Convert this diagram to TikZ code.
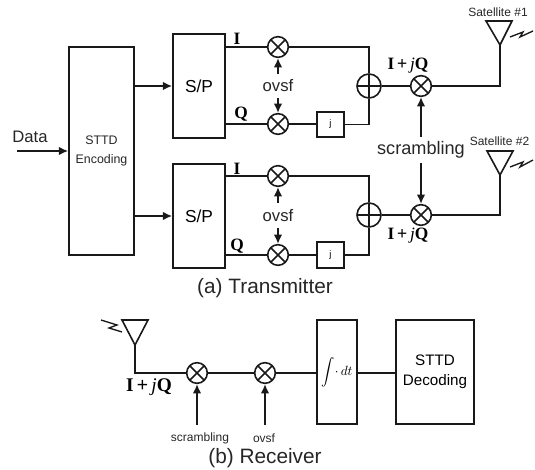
\documentclass[tikz,border=0pt]{standalone}
\usepackage{fontspec}
\setmainfont{Liberation Sans}
\newfontfamily\serifbf{Liberation Serif}
\usetikzlibrary{arrows.meta}
\tikzset{
  wire/.style={draw=black!90,line width=1.2pt},
  arr/.style={draw=black!90,line width=1.2pt,-{Latex[length=7pt,width=6.5pt]}},
  blockbox/.style={draw=black!90,rectangle,inner sep=0,line width=1.3pt,align=center},
  mix/.style={draw=black!90,fill=white,circle,minimum size=15.5pt,inner sep=0,line width=1.2pt,
    path picture={\draw[line width=1.2pt] (path picture bounding box.north west)--(path picture bounding box.south east)
      (path picture bounding box.north east)--(path picture bounding box.south west);}},
  summ/.style={draw=black!90,fill=white,circle,minimum size=18pt,inner sep=0,line width=1.2pt,
    path picture={\draw[line width=1.2pt] (path picture bounding box.north)--(path picture bounding box.south)
      (path picture bounding box.east)--(path picture bounding box.west);}},
  lab/.style={inner sep=0,text=black!85},
  iq/.style={inner sep=0,text=black,font=\serifbf\bfseries\fontsize{13}{15}\selectfont},
  jbox/.style={blockbox,minimum width=20pt,minimum height=19pt,font=\fontsize{7}{8}\selectfont},
  spbox/.style={blockbox,minimum width=39pt,minimum height=78pt,font=\fontsize{13}{15}\selectfont},
  ant/.style={draw=black!90,line width=1.2pt,line join=miter},
  bolt/.style={draw=black!90,line width=1pt},
}
\newcommand{\szA}{\fontsize{9}{10}\selectfont}
\newcommand{\szB}{\fontsize{12.5}{14}\selectfont}
\newcommand{\szC}{\fontsize{15.6}{18}\selectfont}
\newcommand{\IQ}{I\,{\normalfont +}\,{\itshape\mdseries j}Q}
\begin{document}
\begin{tikzpicture}[x=0.75pt,y=-0.75pt]
\useasboundingbox (0,0) rectangle (535,470);
% blocks
\node[blockbox,minimum width=48.75pt,minimum height=156pt] (enc) at (101.5,151) {};
\node[spbox] (sp1) at (199,86) {S/P};
\node[spbox] (sp2) at (199,216) {S/P};
\node[lab,font=\fontsize{9.3}{14}\selectfont,align=center] (enct) at (101.5,151) {STTD\\Encoding};
% mixers
\node[mix] (m1i) at (278,47) {};
\node[mix] (m1q) at (278,124) {};
\node[mix] (m2i) at (278,176) {};
\node[mix] (m2q) at (278,255) {};
\node[jbox] (j1) at (330.5,124.5) {j};
\node[jbox] (j2) at (330.5,255) {j};
\node[summ] (s1) at (369,86) {};
\node[summ] (s2) at (369,215) {};
\node[mix] (x1) at (421,86) {};
\node[mix] (x2) at (421,215) {};
% antennas
\coordinate (a1) at (500,45);
\coordinate (a2) at (500,175);
\coordinate (a3) at (135,345);
\draw[ant] (a1) -- (486,21) -- (512,21) -- cycle;
\draw[ant] (a2) -- (487,151) -- (513,151) -- cycle;
\draw[ant] (a3) -- (122,320) -- (148,320) -- cycle;
\draw[bolt] (510,37) -- (523,32) -- (520,37) -- (533,31);
\draw[bolt] (510,167) -- (523,162) -- (520,167) -- (533,160);
\draw[bolt] (101,320) -- (117,325) -- (109,328) -- (122,332);
% labels
\node[lab,font=\szB] (data) at (30,137) {Data};
\coordinate (dsrc) at (17,151);
\node[lab,font=\szA] (sat1) at (498,12.5) {Satellite \#1};
\node[lab,font=\szA] (sat2) at (499.5,141) {Satellite \#2};
\node[iq] (i1) at (237,39) {I};
\node[iq] (q1) at (241,114) {Q};
\node[iq] (i2) at (237,169) {I};
\node[iq] (q2) at (237,246) {Q};
\node[iq] (iq1) at (408,66) {\IQ};
\node[iq] (iq2) at (408,236) {\IQ};
\node[lab,font=\szB] (ov1) at (278,86) {ovsf};
\node[lab,font=\szB] (ov2) at (278,216) {ovsf};
\node[lab,font=\fontsize{13.6}{15}\selectfont] (scr) at (421,150) {scrambling};
\node[lab,font=\szC] (capa) at (265,288) {(a) Transmitter};
% transmitter wires
\draw[arr] (dsrc) -- (enc.west |- dsrc);
\draw[arr] (enc.east |- sp1) -- (sp1.west);
\draw[arr] (enc.east |- sp2) -- (sp2.west);
\draw[wire] (sp1.east |- m1i) -- (m1i);
\draw[wire] (sp1.east |- m1q) -- (m1q);
\draw[wire] (sp2.east |- m2i) -- (m2i);
\draw[wire] (sp2.east |- m2q) -- (m2q);
\draw[wire] (m1q) -- (j1.west |- m1q);
\draw[wire] (m2q) -- (j2);
\draw[wire] (m1i) -| (s1);
\draw[wire] (m2i) -| (s2);
\draw[wire] (j1.east) -| (s1);
\draw[wire] (j2) -| (s2);
\draw[wire] (s1) -- (x1);
\draw[wire] (s2) -- (x2);
\draw[wire] (x1) -| (a1);
\draw[wire] (x2) -| (a2);
\coordinate (o1a) at (278,74);
\coordinate (o1b) at (278,98);
\coordinate (o2a) at (278,203);
\coordinate (o2b) at (278,228);
\draw[arr] (o1a) -- (m1i);
\draw[arr] (o1b) -- (m1q);
\draw[arr] (o2a) -- (m2i);
\draw[arr] (o2b) -- (m2q);
\coordinate (sa) at (421,137);
\coordinate (sb) at (421,163);
\draw[arr] (sa) -- (x1);
\draw[arr] (sb) -- (x2);
% receiver
\node[mix] (r1) at (197,373) {};
\node[mix] (r2) at (265,373) {};
\node[blockbox,minimum width=30pt,minimum height=78pt] (int) at (337,372) {$\displaystyle\int\!\cdot\, dt$};
\node[blockbox,minimum width=58.5pt,minimum height=78pt,font=\fontsize{11.4}{15}\selectfont] (dec) at (435,372) {STTD\\Decoding};
\draw[wire] (a3) |- (r1);
\draw[wire] (r1) -- (r2);
\draw[wire] (r2) -- (int.west |- r2);
\draw[wire] (int.east |- r2) -- (dec.west |- r2);
\coordinate (ra) at (197,425);
\coordinate (rb) at (265,425);
\draw[arr] (ra) -- (r1);
\draw[arr] (rb) -- (r2);
\node[iq,font=\serifbf\bfseries\fontsize{14.5}{16}\selectfont] (iq3) at (149,387) {\IQ};
\node[lab,font=\szA] (rs) at (200,438) {scrambling};
\node[lab,font=\szA] (ro) at (264,438) {ovsf};
\node[lab,font=\szC] (capb) at (265,458) {(b) Receiver};
\end{tikzpicture}
\end{document}
